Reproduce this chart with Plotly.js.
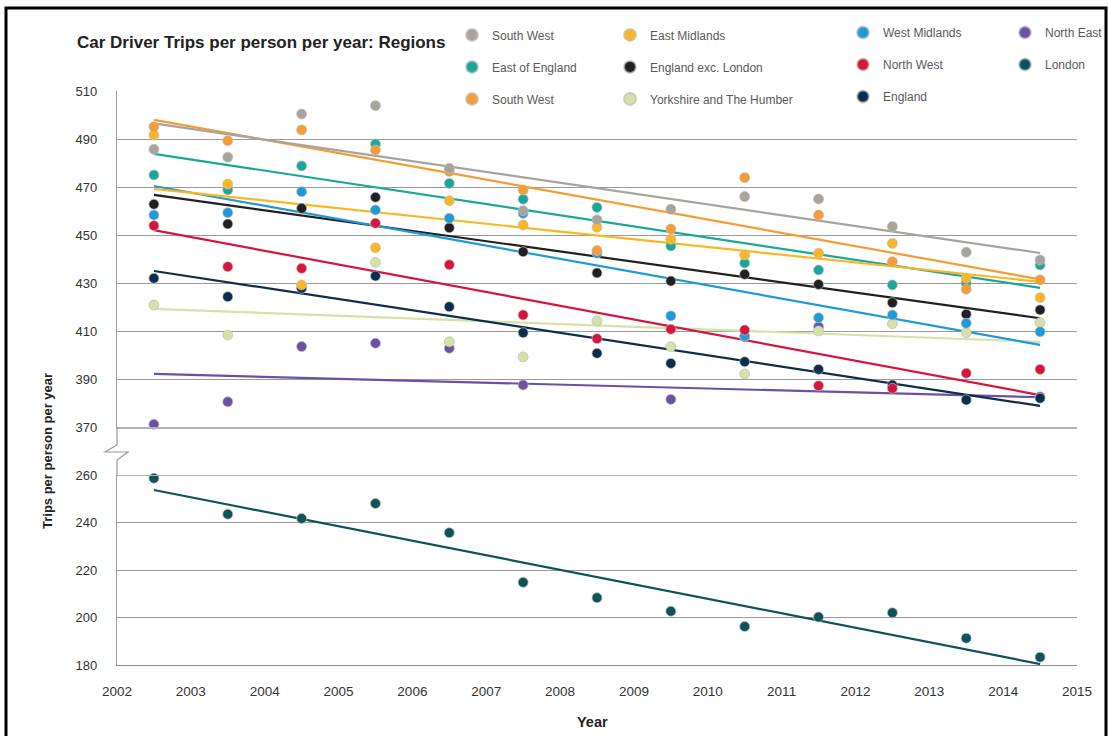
<!DOCTYPE html>
<html>
<head>
<meta charset="utf-8">
<script src="https://cdn.plot.ly/plotly-3.0.1.min.js"></script>
<style>
html,body{margin:0;padding:0;background:#fff;}
#chart{width:1108px;height:736px;}
</style>
</head>
<body>
<div id="chart"></div>
<script>
// ---- data ----
const years = [2002, 2003, 2004, 2005, 2006, 2007, 2008, 2009, 2010, 2011, 2012, 2013, 2014];
const xTicks = [2002, 2003, 2004, 2005, 2006, 2007, 2008, 2009, 2010, 2011, 2012, 2013, 2014, 2015];
const topTicks = [370, 390, 410, 430, 450, 470, 490, 510];
const bottomTicks = [180, 200, 220, 240, 260];

const southWestGrey    = [485.7, 482.4, 500.4, 503.9, 477.8, 460.1, 456.3, 460.7, 466.0, 465.0, 453.5, 442.8, 439.6];
const eastMidlands     = [491.7, 471.2, 429.2, 444.7, 464.3, 454.2, 453.2, 448.2, 441.7, 442.4, 446.5, 432.0, 423.9];
const westMidlands     = [458.3, 459.3, 468.0, 460.4, 457.0, 459.0, 442.4, 416.3, 407.9, 415.5, 416.7, 413.2, 409.7];
const northEast        = [371.1, 380.5, 403.5, 404.9, 402.8, 387.5, 367.9, 381.5, 407.5, 411.8, 366.4, 359.3, 382.6];
const eastOfEngland    = [475.0, 468.8, 478.8, 487.9, 471.5, 464.9, 461.5, 445.4, 438.3, 435.4, 429.2, 429.9, 437.5];
const englandExcLondon = [462.8, 454.6, 461.1, 465.7, 453.0, 443.0, 434.2, 430.8, 433.6, 429.4, 421.8, 417.0, 418.8];
const northWest        = [453.9, 436.8, 436.1, 454.9, 437.6, 416.7, 406.8, 410.7, 410.4, 387.2, 386.1, 392.4, 394.0];
const london           = [258.6, 243.5, 241.7, 248.0, 235.7, 214.8, 208.3, 202.6, 196.2, 200.2, 202.0, 191.3, 183.3];
const southWestOrange  = [495.1, 489.3, 493.8, 485.4, 476.5, 468.8, 443.5, 452.5, 473.9, 458.3, 438.9, 427.4, 431.3];
const yorkshire        = [420.8, 408.3, 428.5, 438.6, 405.5, 399.2, 414.2, 403.5, 392.1, 410.0, 413.0, 409.3, 413.5];
const england          = [432.0, 424.3, 427.8, 432.9, 420.1, 409.3, 400.7, 396.5, 397.2, 394.0, 387.5, 381.3, 382.0];

// trend line values at first and last year
const trendSouthWestGrey    = [496.5, 442.5];
const trendEastMidlands     = [469.2, 430.5];
const trendWestMidlands     = [470.4, 404.2];
const trendNorthEast        = [392.1, 382.4];
const trendEastOfEngland    = [483.8, 428.0];
const trendEnglandExcLondon = [466.7, 415.3];
const trendNorthWest        = [452.0, 383.3];
const trendLondon           = [253.7, 180.4];
const trendSouthWestOrange  = [498.0, 431.5];
const trendYorkshire        = [419.2, 405.5];
const trendEngland          = [435.0, 378.8];

// ---- series styling (drawing order: first = bottom) ----
const series = [
  {name:'North East', y:northEast, trend:trendNorthEast, color:'#6A51A3', legend:'legend4', rank:1, top:true},
  {name:'London', y:london, trend:trendLondon, color:'#0E5359', legend:'legend4', rank:2, top:false},
  {name:'Yorkshire and The Humber', y:yorkshire, trend:trendYorkshire, color:'#D4E2A6', legend:'legend2', rank:3, top:true},
  {name:'England', y:england, trend:trendEngland, color:'#0C2D4E', legend:'legend3', rank:3, top:true},
  {name:'England exc. London', y:englandExcLondon, trend:trendEnglandExcLondon, color:'#231F20', legend:'legend2', rank:2, top:true},
  {name:'West Midlands', y:westMidlands, trend:trendWestMidlands, color:'#1E9AD6', legend:'legend3', rank:1, top:true},
  {name:'North West', y:northWest, trend:trendNorthWest, color:'#D6143C', legend:'legend3', rank:2, top:true},
  {name:'East of England', y:eastOfEngland, trend:trendEastOfEngland, color:'#19A79A', legend:'legend', rank:2, top:true},
  {name:'East Midlands', y:eastMidlands, trend:trendEastMidlands, color:'#FBB623', legend:'legend2', rank:1, top:true},
  {name:'South West', y:southWestOrange, trend:trendSouthWestOrange, color:'#F59C34', legend:'legend', rank:3, top:true},
  {name:'South West', y:southWestGrey, trend:trendSouthWestGrey, color:'#A9A39D', legend:'legend', rank:1, top:true}
];

const xMid = years.map(v => v + 0.5);
const xTrend = [years[0] + 0.5, years[years.length - 1] + 0.5];

const traces = [];
series.forEach(s => {
  traces.push({
    type:'scatter', mode:'lines', x:xTrend, y:s.trend,
    xaxis: s.top ? 'x2' : 'x', yaxis: s.top ? 'y2' : 'y',
    line:{color:s.color, width:2.2}, showlegend:false, hoverinfo:'skip'
  });
});
series.forEach((s, i) => {
  traces.push({
    type:'scatter', mode:'markers', name:s.name, x:xMid, y:s.y,
    xaxis: s.top ? 'x2' : 'x', yaxis: s.top ? 'y2' : 'y',
    marker:{color:s.color, size:10, line:{color:'rgba(190,190,190,0.7)', width:1}},
    cliponaxis:false, legend:s.legend, legendrank:s.rank, legendgroup:'g' + i
  });
});

// pixel helpers for decorative shapes
const L = 117, R = 1077, T = 91, B = 665;
const px = v => (v - L) / (R - L);
const py = v => (B - v) / (B - T);

const legendCommon = {orientation:'v', xanchor:'left', yanchor:'top', y:1.123,
  bgcolor:'rgba(0,0,0,0)', borderwidth:0, tracegroupgap:13, itemsizing:'constant',
  font:{family:'Liberation Sans, Arial, sans-serif', size:12, color:'#5a5a5a'}};

const layout = {
  width:1108, height:736,
  margin:{l:L, r:1108 - R, t:T, b:736 - B, autoexpand:false},
  paper_bgcolor:'#ffffff', plot_bgcolor:'#ffffff',
  font:{family:'Liberation Sans, Arial, sans-serif', color:'#333'},
  title:{text:'<b>Car Driver Trips per person per year: Regions</b>',
    font:{size:17, color:'#222', family:'Liberation Sans, Arial, sans-serif'},
    xref:'container', x:77/1108, xanchor:'left', yref:'container', y:1 - 42/736, yanchor:'middle'},
  xaxis:{anchor:'y', range:[2002, 2015], tickvals:xTicks, ticktext:xTicks.map(String),
    showgrid:false, zeroline:false, showline:true, linecolor:'#8f8f8f', linewidth:1,
    ticks:'', ticklabelstandoff:14, tickfont:{size:13.5, color:'#333'}},
  xaxis2:{anchor:'y2', matches:'x', range:[2002, 2015], showticklabels:false,
    showgrid:false, zeroline:false, showline:true, linecolor:'#b3b3b3', linewidth:2, ticks:''},
  yaxis:{domain:[0, py(475)], range:[180, 260], tickvals:bottomTicks,
    showgrid:true, gridcolor:'#9a9a9a', gridwidth:1, zeroline:false,
    showline:true, linecolor:'#9a9a9a', linewidth:1.2, ticks:'',
    ticklabelstandoff:16, tickfont:{size:13, color:'#333'}},
  yaxis2:{domain:[py(427), 1], range:[370, 510], tickvals:topTicks,
    showgrid:true, gridcolor:'#9a9a9a', gridwidth:1, zeroline:false,
    showline:true, linecolor:'#9a9a9a', linewidth:1.2, ticks:'',
    ticklabelstandoff:16, tickfont:{size:13, color:'#333'}},
  showlegend:true,
  legend:Object.assign({}, legendCommon, {x:px(452)}),
  legend2:Object.assign({}, legendCommon, {x:px(610)}),
  legend3:Object.assign({}, legendCommon, {x:px(843), y:1.127}),
  legend4:Object.assign({}, legendCommon, {x:px(1005), y:1.127}),
  annotations:[
    {text:'<b>Trips per person per year</b>', xref:'paper', yref:'paper',
      x:px(47), y:py(451), textangle:-90, showarrow:false,
      font:{size:13, color:'#222'}, xanchor:'center', yanchor:'middle'},
    {text:'<b>Year</b>', xref:'paper', yref:'paper', x:px(592), y:py(722),
      showarrow:false, font:{size:14.5, color:'#222'}, xanchor:'center', yanchor:'middle'}
  ],
  shapes:[
    // top edge of lower panel
    {type:'line', xref:'paper', yref:'y', x0:0, x1:1, y0:260, y1:260,
      line:{color:'#b3b3b3', width:2}},
    // axis break mark
    {type:'path', xref:'paper', yref:'paper',
      path:'M ' + px(117) + ' ' + py(427) + ' L ' + px(117) + ' ' + py(445) +
           ' L ' + px(105) + ' ' + py(452) + ' L ' + px(128) + ' ' + py(452) +
           ' L ' + px(117) + ' ' + py(460) + ' L ' + px(117) + ' ' + py(475),
      line:{color:'#9a9a9a', width:1.2}},
    // outer frame
    {type:'rect', xref:'paper', yref:'paper', x0:px(6), x1:px(1106), y0:py(760), y1:py(8),
      line:{color:'#000', width:3}, fillcolor:'rgba(0,0,0,0)', layer:'above'}
  ]
};

Plotly.newPlot('chart', traces, layout, {displayModeBar:false, staticPlot:true});
</script>
</body>
</html>
